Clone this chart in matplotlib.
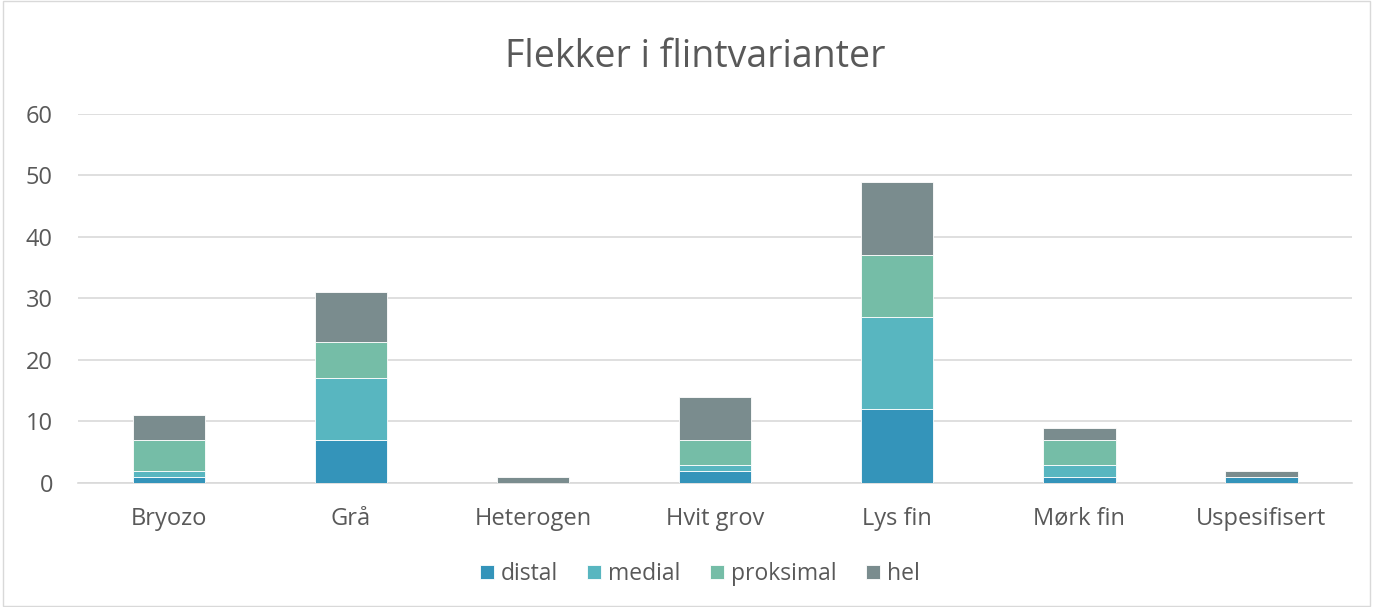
import numpy as np
import matplotlib
matplotlib.use("Agg")
import matplotlib.pyplot as plt

plt.rcParams['font.family'] = ['Open Sans', 'DejaVu Sans']

# data
categories = ['Bryozo', 'Grå', 'Heterogen', 'Hvit grov', 'Lys fin', 'Mørk fin', 'Uspesifisert']
distal = [1, 7, 0, 2, 12, 1, 1]
medial = [1, 10, 0, 1, 15, 2, 0]
proksimal = [5, 6, 0, 4, 10, 4, 0]
hel = [4, 8, 1, 7, 12, 2, 1]

series = [('distal', distal, '#3494BA'),
          ('medial', medial, '#58B6C0'),
          ('proksimal', proksimal, '#75BDA7'),
          ('hel', hel, '#7A8C8E')]

text_col = '#595959'

fig = plt.figure(figsize=(13.73, 6.07), dpi=100)
ax = fig.add_axes([0.0568, 0.2043, 0.928, 0.6079])

x = np.arange(len(categories))
bottom = np.zeros(len(categories))
for name, vals, col in series:
    vals = np.array(vals, dtype=float)
    ax.bar(x, vals, width=0.4, bottom=bottom, color=col, label=name,
           edgecolor='white', linewidth=0.6, zorder=3)
    bottom += vals

ax.set_ylim(0, 60)
ax.set_xlim(-0.5, len(categories) - 0.5)
ax.set_yticks(range(0, 61, 10))
ax.set_xticks(x)
ax.set_xticklabels(categories)
ax.yaxis.grid(True, color='#D9D9D9', linewidth=1.2, zorder=0)
for s in ['top', 'right', 'left']:
    ax.spines[s].set_visible(False)
ax.spines['bottom'].set_color('#D9D9D9')
ax.spines['bottom'].set_linewidth(1.2)
ax.tick_params(axis='both', length=0, labelsize=17, colors=text_col)
ax.tick_params(axis='x', pad=17)
ax.tick_params(axis='y', pad=18)

fig.text(0.5066, 0.906, 'Flekker i flintvarianter', ha='center', va='center',
         fontsize=27, color=text_col)

ax.legend(loc='center', bbox_to_anchor=(0.488, -0.247), ncol=4, frameon=False,
          fontsize=16.5, labelcolor=text_col, handlelength=0.6, handleheight=0.6,
          handletextpad=0.3, columnspacing=1.3)

# outer border
fig.patches.append(plt.Rectangle((0.002, 0.002), 0.996, 0.996, transform=fig.transFigure,
                                 fill=False, edgecolor='#D9D9D9', linewidth=1))

fig.savefig('out.png', dpi=100)
